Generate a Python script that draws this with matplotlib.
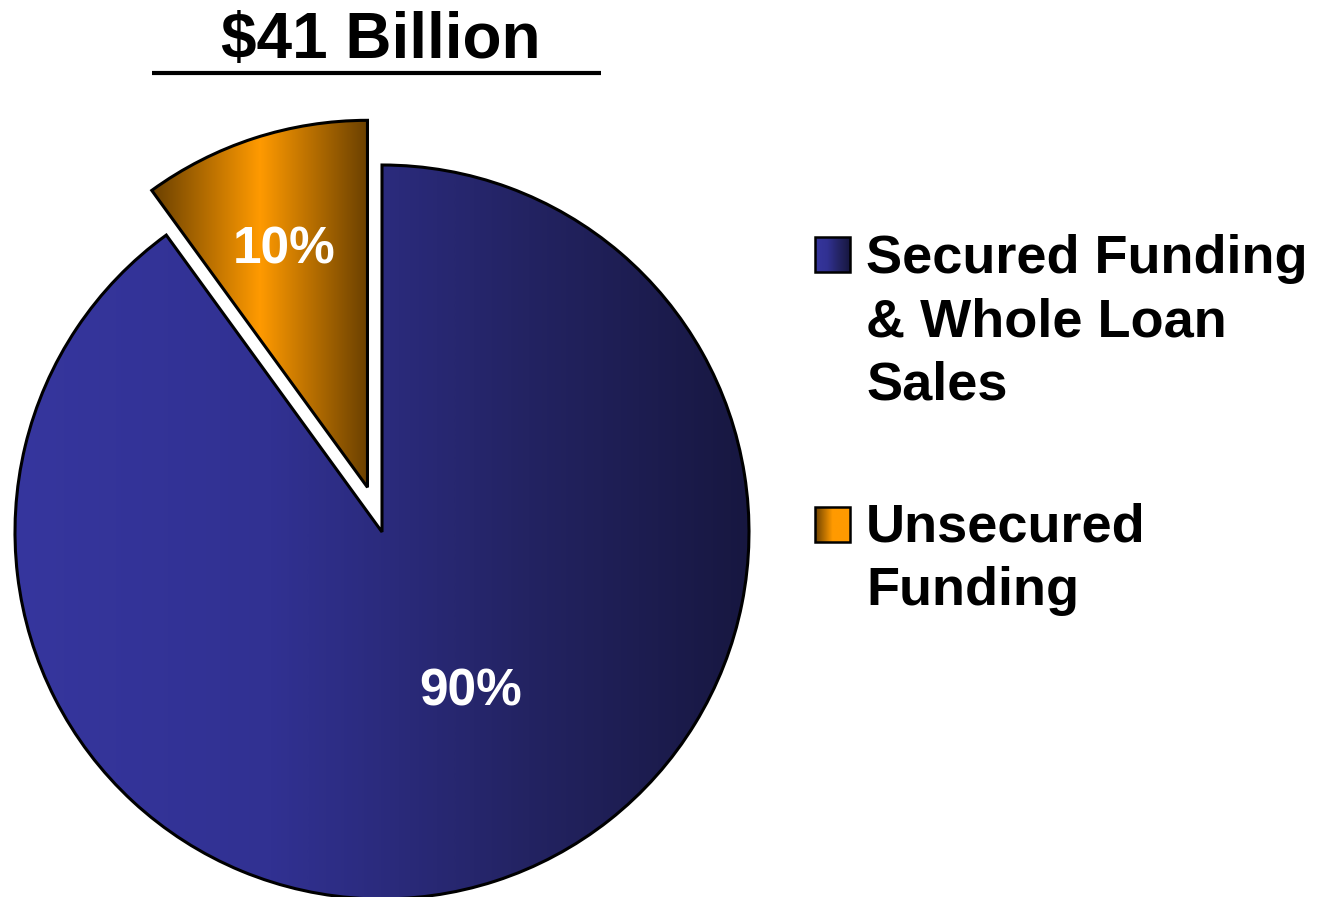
import numpy as np
import matplotlib
matplotlib.use("Agg")
import matplotlib.pyplot as plt
from matplotlib.colors import LinearSegmentedColormap
from matplotlib.patches import Rectangle

# ---- data ----
title = "$41 Billion"
categories = ["Secured Funding\n& Whole Loan\nSales", "Unsecured\nFunding"]
values = [90, 10]
pct_labels = ["90%", "10%"]
explode = [0.0, 0.128]

plt.rcParams['font.family'] = ['Liberation Sans', 'DejaVu Sans']

W, H = 1317, 897
fig = plt.figure(figsize=(W / 100, H / 100), dpi=100)

# pie axes in radius units, centre at pixel (382, 532), radius 367 px
cx, cy, R = 382, 532, 367
ax = fig.add_axes([0, 0, 1, 1])
wedges, _ = ax.pie(values, startangle=90, counterclock=False, explode=explode,
                   radius=1.0, center=(0, 0),
                   wedgeprops=dict(facecolor='none', edgecolor='black', linewidth=2.2))
ax.set_aspect('equal')
ax.axis('off')

blue_cmap = LinearSegmentedColormap.from_list(
    'b', [(0.0, '#36369e'), (0.35, '#313192'), (0.7, '#232362'), (1.0, '#171740')])
orange_cmap = LinearSegmentedColormap.from_list(
    'o', [(0.0, '#6a4000'), (0.5, '#ff9a00'), (1.0, '#6a4000')])
orange_legend_cmap = LinearSegmentedColormap.from_list(
    'ol', [(0.0, '#6a4000'), (0.5, '#ff9a00'), (1.0, '#ff9a00')])
cmaps = [blue_cmap, orange_cmap]
legend_cmaps = [blue_cmap, orange_legend_cmap]

grad = np.linspace(0, 1, 512).reshape(1, -1)
for w, cm in zip(wedges, cmaps):
    verts = w.get_path().vertices
    pts = w.get_patch_transform().transform(verts)
    x0, x1 = pts[:, 0].min(), pts[:, 0].max()
    y0, y1 = pts[:, 1].min(), pts[:, 1].max()
    im = ax.imshow(grad, cmap=cm, extent=[x0, x1, y0, y1], aspect='auto',
                   interpolation='bilinear', zorder=1)
    im.set_clip_path(w)
    w.set_zorder(2)
ax.set_xlim(-cx / R, (W - cx) / R)
ax.set_ylim(-(H - cy) / R, cy / R)

# percentage labels
label_geom = [(-60, 0.485), (109, 0.70)]
for w, txt, (ang, dist) in zip(wedges, pct_labels, label_geom):
    ox, oy = w.center
    a = np.deg2rad(ang)
    ax.text(ox + dist * np.cos(a), oy + dist * np.sin(a), txt, color='white',
            fontsize=37, fontweight='bold', ha='center', va='center_baseline', zorder=5)

# overlay axes in pixel coords
ov = fig.add_axes([0, 0, 1, 1])
ov.axis('off')
ov.patch.set_alpha(0)

ov.text(381, 58, title, fontsize=46, fontweight='bold', ha='center', va='baseline')
ov.plot([152, 601], [73, 73], color='black', linewidth=3.0, solid_capstyle='butt')

legend_tops = [237, 507]
first_baselines = [273, 541]
line_step = 63.5
for cat, cm, top, base in zip(categories, legend_cmaps, legend_tops, first_baselines):
    ov.imshow(grad, cmap=cm, extent=[815, 850, top + 35, top], aspect='auto', zorder=3)
    ov.add_patch(Rectangle((815, top), 35, 35, facecolor='none', edgecolor='black',
                           linewidth=1.8, zorder=4))
    for i, line in enumerate(cat.split("\n")):
        ov.text(866, base + i * line_step, line, fontsize=39, fontweight='bold',
                ha='left', va='baseline')
ov.set_xlim(0, W)
ov.set_ylim(H, 0)

fig.savefig("out.png", dpi=100)
